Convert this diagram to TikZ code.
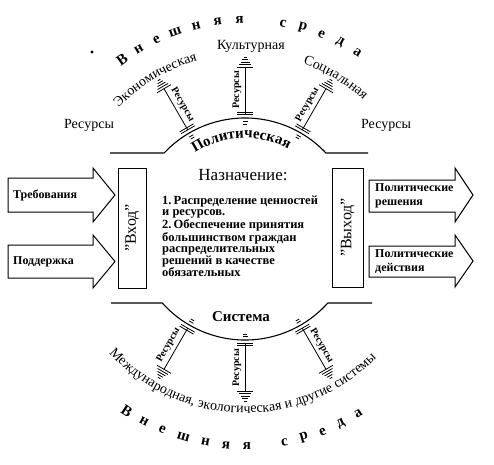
\documentclass[tikz,border=0pt]{standalone}
\usepackage{fontspec}
\setmainfont{Liberation Serif}
\usetikzlibrary{decorations.text}
\tikzset{
  x=1pt, y=1pt,
  mainline/.style={line width=1.1pt},
  conn/.style={line width=0.8pt},
  arrowshape/.style={line width=1pt},
  boxst/.style={draw, line width=1pt, inner sep=0pt, font=\fontsize{16}{16}\selectfont},
  reslbl/.style={inner sep=0pt, font=\fontsize{10}{10}\selectfont\bfseries},
  restxt/.style={inner sep=0pt, font=\fontsize{14}{14}\selectfont},
  alab/.style={inner sep=0pt, align=left, font=\fontsize{12}{14}\selectfont\bfseries},
  envl/.style={inner sep=0pt, font=\fontsize{15}{15}\selectfont\bfseries},
}
\newcommand\resconn[4]{%
\begin{scope}[shift={(245,235)}, rotate=#2-90]
  \coordinate (#1a) at (0,114.5);
  \coordinate (#1b) at (0,162);
  \draw[conn] (#1a) -- (#1b);
  \draw[conn] (-8,114.5) -- (8,114.5) (-8,116.8) -- (8,116.8)
              (-2.5,107.5) -- (2.5,107.5) (-2,105) -- (2,105);
  \draw[conn] (-8,162) -- (8,162) (-6,164.5) -- (6,164.5)
              (-4.5,167) -- (4.5,167) (-3,169.5) -- (3,169.5) (-1.5,172) -- (1.5,172);
  \node[reslbl, rotate=#3] (#1t) at (#4,139) {Ресурсы};
\end{scope}}
\begin{document}
\begin{tikzpicture}
\useasboundingbox (0,0) rectangle (494,464);
\fill[white] (0,0) rectangle (494,464);

% main outline
\draw[mainline] (110,311) -- (164.1,311) arc[start angle=136.8, end angle=43.2, radius=111] -- (368,311);
\draw[mainline] (111,161) -- (162.3,161) arc[start angle=221.8, end angle=318.2, radius=111] -- (372,161);

% resource connectors
\resconn{ct}{90}{90}{-8}
\resconn{lt}{120}{-60}{8}
\resconn{rt}{60}{60}{-8}
\resconn{lb}{240}{60}{8}
\resconn{cb}{270}{90}{8}
\resconn{rb}{300}{-60}{-8}

% outer texts
\node[restxt] (resL) at (89,339) {Ресурсы};
\node[restxt] (resR) at (386,339) {Ресурсы};
\node[restxt] (kult) at (251,418) {Культурная};
\path[decorate, decoration={text along path, text align=center,
  text={|\fontsize{14}{14}\selectfont|Экономическая}}]
  (245,235) ++(137:175) arc[start angle=137, end angle=105, radius=175];
\path[decorate, decoration={text along path, text align=center,
  text={|\fontsize{14}{14}\selectfont|Социальная}}]
  (245,235) ++(75:175) arc[start angle=75, end angle=43, radius=175];
\path[decorate, decoration={text along path, text align=center,
  text={|\fontsize{14}{14}\selectfont|Международная, экологическая и другие системы}}]
  (245,235) ++(214:184) arc[start angle=214, end angle=324, radius=184];
\path[decorate, decoration={text along path, text align=center,
  text={|\fontsize{15}{15}\selectfont\bfseries|Политическая}}]
  (245,235) ++(127:91) arc[start angle=127, end angle=58, radius=91];

\begin{scope}[shift={(245,235)}]
\foreach \c/\a [count=\i] in {В/126,н/120.5,е/115,ш/109.5,н/103.5,я/97.5,я/91.5,с/79.5,р/74,е/68.5,д/63,а/57.5}
  \node[envl, rotate=\a-90] (top\i) at (\a:209) {\c};
\foreach \c/\a [count=\i] in {В/237,н/242.3,е/247.6,ш/253.5,н/259.5,я/265,я/270.5,с/280.5,р/285.8,е/291,д/296.3,а/301.5}
  \node[envl, rotate=\a+90] (bot\i) at (\a:217) {\c};
\end{scope}
\fill (92,412) circle[radius=1.6];

% centre texts
\node[inner sep=0pt, font=\fontsize{17}{17}\selectfont] (naz) at (243,289) {Назначение:};
\node[inner sep=0pt, anchor=north west, align=left, font=\fontsize{12.5}{11}\selectfont\bfseries] (list) at (162,268)
  {1.\,Распределение ценностей\\и ресурсов.\\2.\,Обеспечение принятия\\большинством граждан\\распределительных\\решений в качестве\\обязательных};
\node[inner sep=0pt, font=\fontsize{15}{15}\selectfont\bfseries] (sys) at (241,147) {Система};

% boxes
\node[boxst, rotate=90, minimum width=120pt, minimum height=28pt] (vhod) at (132,236) {"Вход"};
\node[boxst, rotate=90, minimum width=119pt, minimum height=31pt] (vyhod) at (347.5,236.5) {"Выход"};

% block arrows
\draw[arrowshape] (8,252) -- (93,252) -- (93,242) -- (115,269) -- (93,296) -- (93,286) -- (8,286) -- cycle;
\draw[arrowshape] (8,186) -- (93,186) -- (93,176) -- (115,202.5) -- (93,229) -- (93,219) -- (8,219) -- cycle;
\draw[arrowshape] (369,252) -- (455,252) -- (455,242) -- (473,269) -- (455,296) -- (455,284) -- (369,284) -- cycle;
\draw[arrowshape] (369,187) -- (455,187) -- (455,177) -- (473,203) -- (455,229) -- (455,218) -- (369,218) -- cycle;
\node[alab, anchor=west] (treb) at (13,269) {Требования};
\node[alab, anchor=west] (podd) at (13,202) {Поддержка};
\node[alab, anchor=west] (preh) at (375,268) {Политические\\решения};
\node[alab, anchor=west] (pdej) at (375,202.5) {Политические\\действия};
\end{tikzpicture}
\end{document}
